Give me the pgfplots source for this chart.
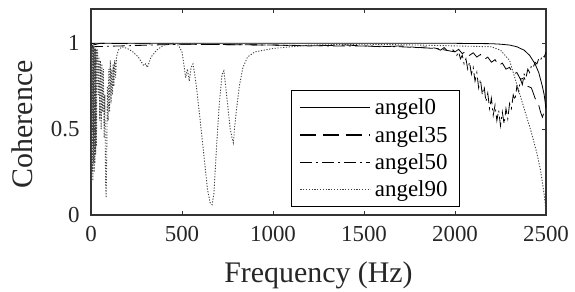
\documentclass[border=0pt]{standalone}
\usepackage{pgfplots}
\pgfplotsset{compat=1.18}
\usepackage{fontspec}
\setmainfont{Liberation Serif}
\begin{document}
\begin{tikzpicture}
\begin{axis}[
  name=main,
  scale only axis, width=455bp, height=206bp,
  xmin=0, xmax=2500, ymin=0, ymax=1.2,
  xtick={0,500,1000,1500,2000,2500},
  ytick={0,0.5,1},
  yticklabels={0,0.5,1},
  /pgf/number format/assume math mode=true,
  /pgf/number format/1000 sep={},
  scaled ticks=false,
  tick label style={font=\fontsize{23}{23}\selectfont, black!85},
  xticklabel style={yshift=-8bp},
  yticklabel style={xshift=-8bp},
  label style={font=\fontsize{30}{30}\selectfont, black!85},
  xlabel={Frequency (Hz)},
  ylabel={Coherence},
  xlabel style={at={(rel axis cs:0.5,0)}, anchor=base, yshift=-67bp},
  ylabel style={at={(rel axis cs:0,0.44)}, anchor=center, yshift=69bp},
  axis line style={line width=1.2bp, black!80},
  tick style={black!80, line width=0.8bp},
  major tick length=4bp,
  legend style={at={(0.811,0.039)}, anchor=south east, draw=black, line width=1bp,
    font=\fontsize{23}{23}\selectfont, row sep=0bp, inner xsep=8bp, inner ysep=3bp,
    nodes={inner ysep=5bp, inner xsep=4bp}},
  legend cell align=left,
  legend image code/.code={\draw[#1, line width=1.1bp] (0bp,0bp) -- (70bp,0bp);},
]
\addplot[black, line width=0.8bp] coordinates {
(0,0.99) (5,1) (100,1) (500,1) (1000,1) (1500,1) (2000,1) (2200,0.998) (2250,0.995)
(2300,0.99) (2340,0.98) (2380,0.96) (2410,0.93) (2440,0.88) (2460,0.83) (2480,0.75)
(2490,0.7) (2500,0.62)};
\addlegendentry{angel0}
\addplot[black, line width=0.8bp, dash pattern=on 16bp off 7bp] coordinates {
(0,0.97) (10,0.99) (50,1) (500,0.995) (1000,0.99) (1200,0.985) (1400,0.99) (1600,0.98)
(1700,0.985) (1800,0.975) (1850,0.98) (1900,0.97) (1920,0.96) (1940,0.975) (1960,0.955)
(1980,0.97) (2000,0.95) (2020,0.965) (2040,0.94) (2060,0.955) (2080,0.93) (2100,0.945)
(2120,0.92) (2140,0.935) (2160,0.905) (2180,0.92) (2200,0.89) (2220,0.905) (2240,0.87)
(2260,0.885) (2280,0.85) (2300,0.86) (2320,0.82) (2340,0.83) (2360,0.79) (2380,0.8)
(2400,0.75) (2420,0.74) (2440,0.68) (2460,0.64) (2470,0.6) (2480,0.57) (2490,0.6) (2500,0.64)};
\addlegendentry{angel35}
\addplot[black, line width=0.8bp, dash pattern=on 12bp off 4bp on 2bp off 4bp] coordinates {
(0,0.98) (500,0.995) (1000,0.99) (1300,0.985) (1500,0.985) (1700,0.98) (1800,0.975)
(1900,0.97) (1950,0.96)
(2000,0.95) (2010,0.93) (2020,0.95) (2030,0.91) (2040,0.93) (2050,0.88) (2060,0.91)
(2070,0.85) (2080,0.89) (2090,0.82) (2100,0.86) (2110,0.78) (2120,0.83) (2130,0.74)
(2140,0.79) (2150,0.7) (2160,0.75) (2170,0.66) (2180,0.71) (2190,0.62) (2200,0.68)
(2210,0.58) (2220,0.64) (2230,0.55) (2240,0.61) (2250,0.52) (2260,0.6) (2270,0.53)
(2280,0.62) (2290,0.56) (2300,0.65) (2310,0.62) (2320,0.7) (2330,0.67) (2340,0.75)
(2350,0.72) (2360,0.79) (2370,0.76) (2380,0.82) (2390,0.8) (2400,0.85) (2410,0.83)
(2420,0.87) (2430,0.86) (2440,0.89) (2450,0.88) (2460,0.91) (2470,0.9) (2480,0.93)
(2490,0.92) (2500,0.95)};
\addlegendentry{angel50}
\addplot[black!75, line width=0.9bp, dash pattern=on 1.2bp off 1.6bp] coordinates {
(0,1) (2,0.2) (4,0.99) (6,0.25) (8,0.99) (10,0.2) (12,0.98) (14,0.3) (16,0.98) (18,0.25)
(20,0.97) (22,0.3) (24,0.97) (26,0.35) (28,0.96) (30,0.4) (33,0.97) (36,0.95) (40,0.7)
(44,0.92) (48,0.55) (52,0.9) (56,0.5) (60,0.88) (64,0.6) (68,0.85) (72,0.45) (76,0.7)
(80,0.2) (83,0.1) (86,0.3) (90,0.75) (94,0.55) (98,0.85) (102,0.6) (106,0.9) (110,0.65)
(114,0.85) (118,0.7) (122,0.88) (126,0.75) (130,0.9) (135,0.8) (140,0.92) (150,0.96)
(170,0.98) (200,0.97) (230,0.95) (260,0.92) (290,0.87) (300,0.88) (310,0.86) (330,0.92)
(360,0.96) (400,0.99) (450,1.0) (480,0.99) (500,0.95) (510,0.88) (520,0.8) (530,0.85)
(540,0.78) (550,0.86) (560,0.88) (570,0.82) (580,0.74) (600,0.55) (620,0.35) (640,0.15)
(655,0.07) (665,0.06) (675,0.12) (690,0.4) (705,0.65) (720,0.82) (730,0.84) (740,0.75)
(755,0.6) (765,0.5) (775,0.45) (782,0.42) (790,0.52) (800,0.62) (815,0.75) (835,0.86)
(860,0.92) (900,0.95) (950,0.96) (1000,0.97) (1100,0.98) (1200,0.99) (1500,0.995)
(1800,0.99) (2000,0.985) (2200,0.98) (2250,0.96) (2300,0.9) (2340,0.76) (2380,0.62)
(2420,0.48) (2450,0.36) (2470,0.26) (2490,0.12) (2500,0.02)};
\addlegendentry{angel90}
\end{axis}
\pgfresetboundingbox
\path ([xshift=-91bp,yshift=-77bp]main.south west) rectangle ([xshift=29bp,yshift=9bp]main.north east);
\end{tikzpicture}
\end{document}
